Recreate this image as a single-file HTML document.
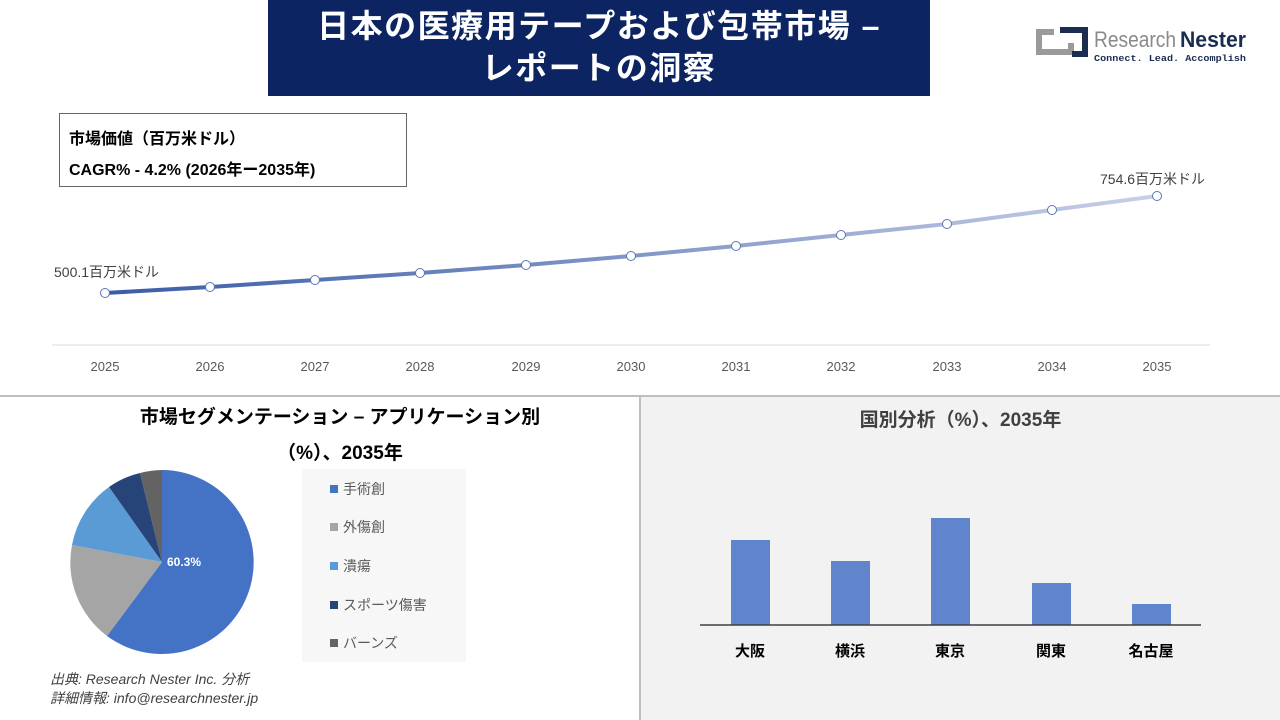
<!DOCTYPE html>
<html><head><meta charset="utf-8"><style>
body{margin:0;width:1280px;height:720px;background:#fff;position:relative;overflow:hidden;font-family:"Liberation Sans","Noto Sans CJK JP",sans-serif}
.a{position:absolute}
</style></head><body>
<div class="a" style="left:268px;top:0;width:662px;height:96px;background:#0c2461;color:#fff;font-weight:bold;font-size:32px;letter-spacing:1.5px;text-align:center;line-height:42px;padding-top:5px;box-sizing:border-box">日本の医療用テープおよび包帯市場 –<br>レポートの洞察</div>
<svg class="a" style="left:1030px;top:25px" width="240" height="40">
<path d="M6 4 h18 v6 h-12 v14 h26 v-6 h6 v12 h-38 z" fill="#9a9a9a"/>
<path d="M30 2 h28 v30 h-16 v-6 h10 v-18 h-22 z" fill="#1b2d4f"/>
<text x="64" y="22" font-size="22" font-family="Liberation Sans" fill="#8a8a8a" textLength="82" lengthAdjust="spacingAndGlyphs">Research</text>
<text x="150" y="22" font-size="22" font-weight="bold" font-family="Liberation Sans" fill="#1b2d4f" textLength="66" lengthAdjust="spacingAndGlyphs">Nester</text>
<text x="64" y="36" font-size="9" font-weight="bold" font-family="Liberation Mono" fill="#1b2d4f" textLength="152" lengthAdjust="spacingAndGlyphs">Connect. Lead. Accomplish</text>
</svg>
<div class="a" style="left:59px;top:113px;width:348px;height:74px;border:1.5px solid #666;box-sizing:border-box;font-weight:bold;font-size:16px;padding:10px 0 0 9px;line-height:31px">市場価値（百万米ドル）<br>CAGR% - 4.2% (2026年ー2035年)</div>
<svg class="a" style="left:0;top:0" width="1280" height="720">
<defs><linearGradient id="g" x1="105" x2="1157" gradientUnits="userSpaceOnUse"><stop offset="0" stop-color="#3a5ca6"/><stop offset="1" stop-color="#c8d0e8"/></linearGradient></defs>
<line x1="52" y1="345" x2="1210" y2="345" stroke="#d9d9d9"/>
<polyline points="105,293 210,287 315,280 420,273 526,265 631,256 736,246 841,235 947,224 1052,210 1157,196" fill="none" stroke="url(#g)" stroke-width="4"/>
<g fill="#fff" stroke="#5a76b4" stroke-width="1">
<circle cx="105" cy="293" r="4.5"/><circle cx="210" cy="287" r="4.5"/><circle cx="315" cy="280" r="4.5"/><circle cx="420" cy="273" r="4.5"/><circle cx="526" cy="265" r="4.5"/><circle cx="631" cy="256" r="4.5"/><circle cx="736" cy="246" r="4.5"/><circle cx="841" cy="235" r="4.5"/><circle cx="947" cy="224" r="4.5"/><circle cx="1052" cy="210" r="4.5"/><circle cx="1157" cy="196" r="4.5"/></g>
<g font-size="13" fill="#595959" text-anchor="middle">
<text x="105" y="371">2025</text><text x="210" y="371">2026</text><text x="315" y="371">2027</text><text x="420" y="371">2028</text><text x="526" y="371">2029</text><text x="631" y="371">2030</text><text x="736" y="371">2031</text><text x="841" y="371">2032</text><text x="947" y="371">2033</text><text x="1052" y="371">2034</text><text x="1157" y="371">2035</text></g>
<text x="54" y="277" font-size="14" fill="#404040">500.1百万米ドル</text>
<text x="1100" y="184" font-size="14" fill="#404040">754.6百万米ドル</text>
<line x1="0" y1="396" x2="1280" y2="396" stroke="#bfbfbf" stroke-width="2"/>
<rect x="641" y="397" width="639" height="323" fill="#f2f2f2"/>
<line x1="640" y1="396" x2="640" y2="720" stroke="#bfbfbf" stroke-width="2"/>
<rect x="302" y="469" width="164" height="193" fill="#f7f7f7"/>
<path d="M162 562 L162 470 A92 92 0 1 1 107 636 Z" fill="#4472c4"/>
<path d="M162 562 L107 636 A92 92 0 0 1 72 545 Z" fill="#a5a5a5"/>
<path d="M162 562 L72 545 A92 92 0 0 1 109 487 Z" fill="#5b9bd5"/>
<path d="M162 562 L109 487 A92 92 0 0 1 140 473 Z" fill="#264478"/>
<path d="M162 562 L140 473 A92 92 0 0 1 162 470 Z" fill="#636363"/>
<text x="167" y="566" font-size="12" font-weight="bold" fill="#fff">60.3%</text>
<g font-size="14" fill="#595959">
<rect x="330" y="485" width="8" height="8" fill="#4472c4"/><text x="343" y="494">手術創</text>
<rect x="330" y="523" width="8" height="8" fill="#a5a5a5"/><text x="343" y="532">外傷創</text>
<rect x="330" y="562" width="8" height="8" fill="#5b9bd5"/><text x="343" y="571">潰瘍</text>
<rect x="330" y="601" width="8" height="8" fill="#264478"/><text x="343" y="610">スポーツ傷害</text>
<rect x="330" y="639" width="8" height="8" fill="#636363"/><text x="343" y="648">バーンズ</text></g>
<g fill="#6185cc">
<rect x="731" y="540" width="39" height="85"/><rect x="831" y="561" width="39" height="64"/><rect x="931" y="518" width="39" height="107"/><rect x="1032" y="583" width="39" height="42"/><rect x="1132" y="604" width="39" height="21"/></g>
<line x1="700" y1="625" x2="1201" y2="625" stroke="#404040" stroke-width="1.5"/>
<g font-size="15" font-weight="bold" fill="#000" text-anchor="middle">
<text x="750" y="656">大阪</text><text x="850" y="656">横浜</text><text x="950" y="656">東京</text><text x="1051" y="656">関東</text><text x="1151" y="656">名古屋</text></g>
</svg>
<div class="a" style="left:0;top:400px;width:680px;text-align:center;font-weight:bold;font-size:19px;line-height:36px;font-family:'Liberation Sans','Noto Sans CJK JP',sans-serif">市場セグメンテーション – アプリケーション別<br>（%）、2035年</div>
<div class="a" style="left:641px;top:405px;width:639px;text-align:center;font-weight:bold;font-size:19px;color:#404040">国別分析（%）、2035年</div>
<div class="a" style="left:50px;top:670px;font-style:italic;font-size:14px;color:#404040;line-height:19px">出典: Research Nester Inc. 分析<br>詳細情報: info@researchnester.jp</div>
</body></html>
